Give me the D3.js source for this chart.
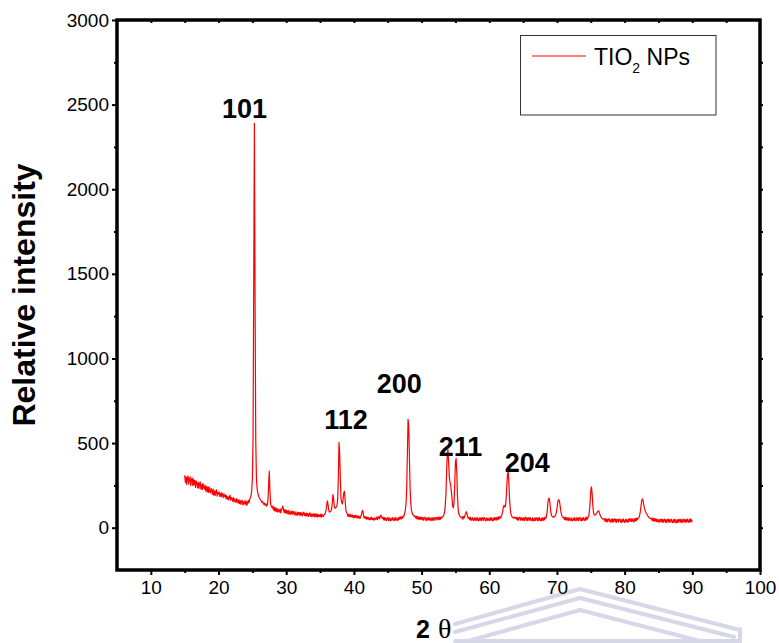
<!DOCTYPE html>
<html>
<head>
<meta charset="utf-8">
<script src="https://cdn.jsdelivr.net/npm/d3@7"></script>
<style>
  body { margin: 0; background: #fff; }
  svg { display: block; }
  text { font-family: "Liberation Sans", Arial, sans-serif; }
</style>
</head>
<body>
<svg id="chart" width="779" height="643"></svg>
<script>
// XRD scan: start angle, step (degrees 2θ) and recorded intensities
const scanStart = 15.0;
const scanStep = 0.1;
const intensity = [
  310, 268, 300, 255, 295, 305, 258, 288, 300, 250,
  282, 295, 248, 285, 255, 280, 238, 276, 262, 236,
  268, 232, 262, 270, 228, 255, 225, 262, 240, 228,
  252, 218, 245, 212, 240, 208, 242, 215, 205, 232,
  222, 196, 228, 192, 218, 190, 212, 224, 186, 208,
  198, 212, 185, 202, 182, 208, 190, 178, 200, 184,
  194, 172, 190, 168, 184, 165, 180, 192, 162, 178,
  172, 156, 178, 152, 170, 160, 148, 172, 155, 146,
  166, 142, 160, 138, 154, 162, 134, 152, 140, 160,
  138, 155, 132, 150, 162, 145, 168, 175, 190, 215,
  290, 520, 1450, 2390, 1350, 520, 290, 230, 205, 190,
  180, 172, 165, 158, 150, 155, 142, 138, 145, 132,
  140, 128, 135, 160, 250, 335, 210, 140, 125, 118,
  128, 105, 122, 100, 118, 96, 114, 92, 110, 98,
  92, 112, 88, 106, 115, 128, 104, 90, 108, 86,
  104, 84, 100, 80, 102, 86, 78, 98, 82, 96,
  78, 96, 84, 74, 94, 80, 72, 92, 78, 90,
  72, 90, 74, 88, 70, 86, 92, 72, 84, 68,
  86, 70, 84, 66, 80, 88, 68, 82, 64, 80,
  68, 84, 64, 80, 66, 82, 62, 78, 66, 76,
  64, 80, 62, 78, 68, 66, 78, 80, 90, 105,
  140, 158, 130, 100, 92, 95, 98, 110, 140, 195,
  175, 125, 115, 118, 122, 130, 165, 290, 505, 440,
  280, 170, 150, 140, 165, 205, 215, 165, 110, 90,
  84, 68, 78, 64, 80, 66, 76, 62, 74, 60,
  72, 58, 74, 62, 70, 56, 72, 58, 66, 54,
  68, 74, 95, 102, 80, 58, 66, 54, 64, 50,
  62, 50, 60, 46, 58, 48, 62, 47, 56, 45,
  58, 46, 56, 50, 64, 48, 60, 66, 52, 68,
  74, 62, 54, 62, 46, 60, 44, 58, 42, 56,
  58, 42, 60, 46, 40, 56, 44, 60, 46, 42,
  58, 44, 60, 48, 42, 58, 46, 62, 50, 64,
  52, 66, 56, 70, 68, 85, 105, 140, 230, 430,
  640, 600, 420, 240, 145, 105, 88, 78, 72, 68,
  70, 58, 68, 52, 66, 50, 64, 48, 62, 50,
  62, 46, 60, 44, 58, 62, 46, 42, 60, 46,
  58, 44, 60, 48, 42, 58, 44, 60, 43, 56,
  60, 45, 58, 62, 46, 60, 48, 64, 50, 62,
  58, 64, 68, 78, 95, 130, 200, 330, 440, 460,
  380, 300, 270, 250, 215, 170, 125, 118, 150, 260,
  385, 410, 330, 190, 110, 82, 72, 66, 62, 58,
  64, 50, 66, 58, 72, 80, 95, 84, 66, 56,
  60, 46, 62, 48, 44, 60, 46, 42, 58, 44,
  58, 43, 60, 46, 41, 58, 44, 57, 42, 60,
  56, 41, 58, 60, 44, 40, 56, 43, 58, 45,
  42, 58, 44, 60, 46, 41, 58, 44, 60, 46,
  60, 45, 62, 48, 64, 52, 66, 58, 70, 82,
  100, 125, 132, 122, 128, 175, 255, 318, 330, 262,
  170, 112, 82, 70, 64, 60, 56, 62, 58, 54,
  62, 46, 60, 44, 58, 62, 45, 60, 43, 57,
  44, 60, 42, 58, 62, 44, 58, 41, 56, 60,
  43, 58, 45, 41, 60, 44, 40, 57, 42, 59,
  56, 41, 58, 43, 60, 44, 40, 57, 42, 58,
  44, 60, 46, 62, 58, 78, 118, 160, 175, 168,
  128, 90, 72, 66, 62, 65, 64, 68, 74, 88,
  112, 145, 165, 165, 150, 120, 90, 74, 66, 60,
  62, 48, 63, 46, 60, 44, 58, 43, 59, 45,
  42, 58, 44, 40, 57, 43, 60, 45, 41, 58,
  44, 59, 42, 57, 61, 44, 41, 58, 43, 60,
  46, 42, 59, 45, 62, 50, 64, 70, 100, 150,
  220, 242, 200, 130, 90, 76, 74, 76, 82, 88,
  95, 100, 96, 85, 72, 64, 58, 54, 50, 52,
  52, 38, 54, 36, 51, 34, 50, 53, 37, 33,
  50, 35, 52, 32, 48, 52, 34, 50, 31, 47,
  51, 33, 48, 52, 35, 30, 49, 34, 52, 36,
  32, 48, 34, 51, 35, 31, 50, 53, 36, 52,
  37, 54, 39, 35, 52, 38, 55, 40, 57, 48,
  55, 60, 70, 90, 120, 155, 170, 165, 140, 120,
  105, 95, 85, 78, 70, 66, 60, 57, 54, 52,
  56, 41, 57, 39, 54, 38, 52, 36, 51, 37,
  34, 50, 32, 47, 51, 33, 49, 31, 46, 50,
  32, 48, 30, 47, 51, 33, 49, 31, 45, 50,
  33, 30, 48, 32, 50, 34, 29, 47, 32, 49,
  31, 47, 50, 32, 48, 30, 46, 51, 33, 48,
  32, 49, 34, 51, 35, 31, 50, 34, 52, 36,
  43
];

// Miller-index annotations: text, centre angle, baseline intensity
const peakLabels = ["101", "112", "200", "211", "204"];
const peakLabelTheta = [23.85, 38.85, 46.7, 55.75, 65.6];
const peakLabelLevel = [2420, 583, 796, 424, 329];

// Axis ticks
const xTicks = [10, 20, 30, 40, 50, 60, 70, 80, 90, 100];
const xMinorTicks = [5, 15, 25, 35, 45, 55, 65, 75, 85, 95];
const yTicks = [0, 500, 1000, 1500, 2000, 2500, 3000];
const yMinorTicks = [-250, 250, 750, 1250, 1750, 2250, 2750];

const seriesName = "TIO";
const seriesSub = "2";
const seriesSuffix = " NPs";
const xTitle = "2";
const xTitleSymbol = "θ";
const yTitle = "Relative intensity";

const svg = d3.select("#chart");
const plotLeft = 117, plotRight = 760, plotTop = 20, plotBottom = 570;

const x = d3.scaleLinear().domain([5, 100]).range([plotLeft, plotRight]);
const y = d3.scaleLinear().domain([-250, 3000]).range([plotBottom, plotTop]);

// faint emblem behind the lower axis area
const mark = svg.append("g")
  .attr("fill", "none")
  .attr("stroke", "#d6d7e7")
  .attr("stroke-width", 4)
  .attr("stroke-linejoin", "round")
  .attr("stroke-linecap", "round");
mark.append("path").attr("d", "M455,624 L580,589 L740,630");
mark.append("path").attr("d", "M455,632 L580,598 L734,637");
mark.append("path").attr("d", "M468,641 L580,610 L700,641");
mark.append("path").attr("d", "M455,641 L740,641");
mark.append("path").attr("d", "M740,629 L740,642");

// data trace
const points = intensity.map((v, i) => [scanStart + i * scanStep, v]);
const line = d3.line().x(d => x(d[0])).y(d => y(d[1]));
svg.append("path")
  .datum(points)
  .attr("fill", "none")
  .attr("stroke", "#ff0000")
  .attr("stroke-width", 1.2)
  .attr("stroke-linejoin", "round")
  .attr("d", line);

// axes
function styleAxis(g) {
  g.select(".domain").remove();
  g.selectAll(".tick line").attr("stroke", "#000").attr("stroke-width", 2);
  g.selectAll(".tick text").attr("fill", "#000")
    .style("font-family", '"Liberation Sans", Arial, sans-serif')
    .style("font-size", "19px");
}

svg.append("g").attr("transform", `translate(${plotLeft},0)`)
  .call(d3.axisLeft(y).tickValues(yTicks).tickSize(5).tickPadding(3).tickFormat(d3.format("d")))
  .call(styleAxis);
svg.append("g").attr("transform", `translate(${plotLeft},0)`)
  .call(d3.axisLeft(y).tickValues(yMinorTicks.filter(v => v > -250)).tickSize(3).tickFormat(""))
  .call(styleAxis);

svg.append("g").attr("transform", `translate(0,${plotBottom})`)
  .call(d3.axisBottom(x).tickValues(xTicks).tickSize(5).tickPadding(5.5).tickFormat(d3.format("d")))
  .call(styleAxis);
svg.append("g").attr("transform", `translate(0,${plotBottom})`)
  .call(d3.axisBottom(x).tickValues(xMinorTicks.filter(v => v > 5)).tickSize(3).tickFormat(""))
  .call(styleAxis);

svg.append("g").attr("transform", `translate(0,${plotTop})`)
  .call(d3.axisBottom(x).tickValues(xTicks.concat(xMinorTicks).filter(v => v > 5 && v < 100)).tickSize(3).tickFormat(""))
  .call(styleAxis);
svg.append("g").attr("transform", `translate(${plotRight},0)`)
  .call(d3.axisRight(y).tickValues(yTicks.concat(yMinorTicks).filter(v => v > -250 && v < 3000)).tickSize(3).tickFormat(""))
  .call(styleAxis);

// frame
svg.append("rect")
  .attr("x", plotLeft).attr("y", plotTop)
  .attr("width", plotRight - plotLeft).attr("height", plotBottom - plotTop)
  .attr("fill", "none").attr("stroke", "#000").attr("stroke-width", 3.5);

// peak annotations
svg.append("g").selectAll("text")
  .data(peakLabels)
  .join("text")
  .attr("x", (d, i) => x(peakLabelTheta[i]))
  .attr("y", (d, i) => y(peakLabelLevel[i]))
  .attr("text-anchor", "middle")
  .attr("font-weight", "bold")
  .attr("font-size", 27)
  .attr("fill", "#000")
  .text(d => d);

// legend
const lg = svg.append("g");
lg.append("rect")
  .attr("x", 520.5).attr("y", 35.5).attr("width", 195.5).attr("height", 79.5)
  .attr("fill", "#fff").attr("stroke", "#333").attr("stroke-width", 1);
lg.append("line")
  .attr("x1", 532).attr("x2", 586).attr("y1", 56).attr("y2", 56)
  .attr("stroke", "#ff0000").attr("stroke-width", 1.1);
const lt = lg.append("text").attr("x", 594).attr("y", 65)
  .attr("font-size", 23).attr("fill", "#000");
lt.append("tspan").text(seriesName);
lt.append("tspan").attr("font-size", 14).attr("dy", 8).text(seriesSub);
lt.append("tspan").attr("dy", -8).text(seriesSuffix);

// axis titles
svg.append("text")
  .attr("transform", "translate(35,295) rotate(-90)")
  .attr("text-anchor", "middle")
  .attr("font-weight", "bold")
  .attr("font-size", 32)
  .attr("fill", "#000")
  .text(yTitle);

const xt = svg.append("text").attr("x", 416).attr("y", 638).attr("fill", "#000");
xt.append("tspan").attr("font-weight", "bold").attr("font-size", 25).text(xTitle);
xt.append("tspan")
  .style("font-family", '"Liberation Serif", "Times New Roman", serif')
  .attr("font-size", 28).attr("dx", 8).text(xTitleSymbol);
</script>
</body>
</html>
